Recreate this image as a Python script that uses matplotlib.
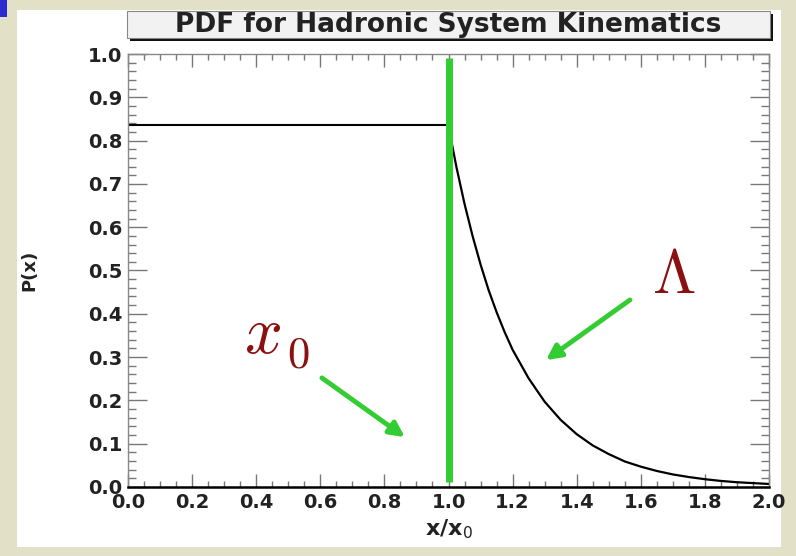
import matplotlib.pyplot as plt
from matplotlib.patches import Rectangle
from matplotlib.ticker import MultipleLocator

plt.rcParams['font.family'] = ['DejaVu Sans']

# flat part of the PDF (0 < x/x0 < 1)
x_flat = [0.0, 1.0]
p_flat = [0.835, 0.835]

# exponential tail (x/x0 >= 1)
x_tail = [1.000, 1.025, 1.050, 1.075, 1.100, 1.125, 1.150, 1.175, 1.200, 1.250,
          1.300, 1.350, 1.400, 1.450, 1.500, 1.550, 1.600, 1.650, 1.700, 1.750,
          1.800, 1.850, 1.900, 1.950, 2.000]
p_tail = [0.833, 0.738, 0.654, 0.580, 0.514, 0.455, 0.404, 0.358, 0.317, 0.251,
          0.197, 0.155, 0.122, 0.096, 0.076, 0.059, 0.047, 0.037, 0.029, 0.023,
          0.018, 0.014, 0.011, 0.009, 0.007]

# x0 marker
x0_line_x = [1.0, 1.0]
x0_line_y = [0.012, 0.99]

title = "PDF for Hadronic System Kinematics"

W, H = 796, 556
fig = plt.figure(figsize=(W / 100, H / 100), dpi=100)
fig.patch.set_facecolor('#e3e0c8')


def frac(x0, y0, x1, y1):
    # pixel box (top-left origin) -> figure fraction
    return (x0 / W, 1 - y1 / H), (x1 - x0) / W, (y1 - y0) / H


# white panel and little blue corner
xy, w, h = frac(17, 10, 781, 547)
fig.patches.append(Rectangle(xy, w, h, transform=fig.transFigure, fc='white', ec='none', zorder=0))
xy, w, h = frac(0, 0, 7, 17)
fig.patches.append(Rectangle(xy, w, h, transform=fig.transFigure, fc='#2b2bd0', ec='none', zorder=0))

# title box with shadow
xy, w, h = frac(130, 14, 773, 41)
fig.patches.append(Rectangle(xy, w, h, transform=fig.transFigure, fc='#111111', ec='none', zorder=1))
xy, w, h = frac(127, 11, 770, 38)
fig.patches.append(Rectangle(xy, w, h, transform=fig.transFigure, fc='#f2f2f2', ec='#888888', lw=0.8, zorder=2))
fig.text(448.5 / W, 1 - 25 / H, title, ha='center', va='center', fontsize=19,
         fontweight='bold', color='#222222', zorder=3)

ax = fig.add_axes([128 / W, 1 - 487 / H, (769 - 128) / W, (487 - 54) / H])
ax.set_zorder(5)
ax.set_facecolor('white')

ax.plot(x_flat, p_flat, color='black', lw=1.5)
ax.plot(x_tail, p_tail, color='black', lw=1.6)
ax.plot(x0_line_x, x0_line_y, color='limegreen', lw=5, solid_capstyle='butt', zorder=4)

green = '#33cc33'
ax.annotate('', xy=(0.864, 0.115), xytext=(0.605, 0.252),
            arrowprops=dict(arrowstyle='-|>', color=green, lw=3.5, mutation_scale=22,
                            shrinkA=0, shrinkB=0))
ax.annotate('', xy=(1.304, 0.293), xytext=(1.566, 0.432),
            arrowprops=dict(arrowstyle='-|>', color=green, lw=3.5, mutation_scale=22,
                            shrinkA=0, shrinkB=0))

red = '#8b1010'
ax.text(0.362, 0.31, r'$x$', fontsize=48, color=red, math_fontfamily='cm',
        ha='left', va='baseline')
ax.text(0.497, 0.275, r'$\mathrm{0}$', fontsize=32, color=red, math_fontfamily='cm',
        ha='left', va='baseline')
ax.text(1.634, 0.447, r'$\Lambda$', fontsize=45, color=red, math_fontfamily='cm',
        ha='left', va='baseline')

ax.set_xlim(0, 2)
ax.set_ylim(0, 1)
ax.xaxis.set_major_locator(MultipleLocator(0.2))
ax.xaxis.set_minor_locator(MultipleLocator(0.05))
ax.yaxis.set_major_locator(MultipleLocator(0.1))
ax.yaxis.set_minor_locator(MultipleLocator(0.02))
ax.xaxis.set_major_formatter(lambda v, p: f"{v:.1f}")
ax.yaxis.set_major_formatter(lambda v, p: f"{v:.1f}")

ax.tick_params(axis='both', which='both', direction='in', top=True, right=True,
               color='#777777', width=1)
ax.tick_params(axis='x', which='major', length=9.5, pad=4)
ax.tick_params(axis='x', which='minor', length=4.5)
ax.tick_params(axis='y', which='major', length=13.5, pad=4)
ax.tick_params(axis='y', which='minor', length=6)
for lab in ax.get_xticklabels() + ax.get_yticklabels():
    lab.set_fontweight('bold')
    lab.set_fontsize(14)
    lab.set_color('#222222')

for s in ['top', 'right', 'left']:
    ax.spines[s].set_color('#888888')
    ax.spines[s].set_linewidth(1)
ax.spines['bottom'].set_color('black')
ax.spines['bottom'].set_linewidth(1.8)

ax.set_xlabel(r'x/x$_0$', fontsize=16, fontweight='bold', color='#222222', labelpad=4)
ax.set_ylabel('P(x)', fontsize=13, fontweight='bold', color='#222222', labelpad=36)

fig.savefig('out.png', dpi=100, facecolor=fig.get_facecolor())
